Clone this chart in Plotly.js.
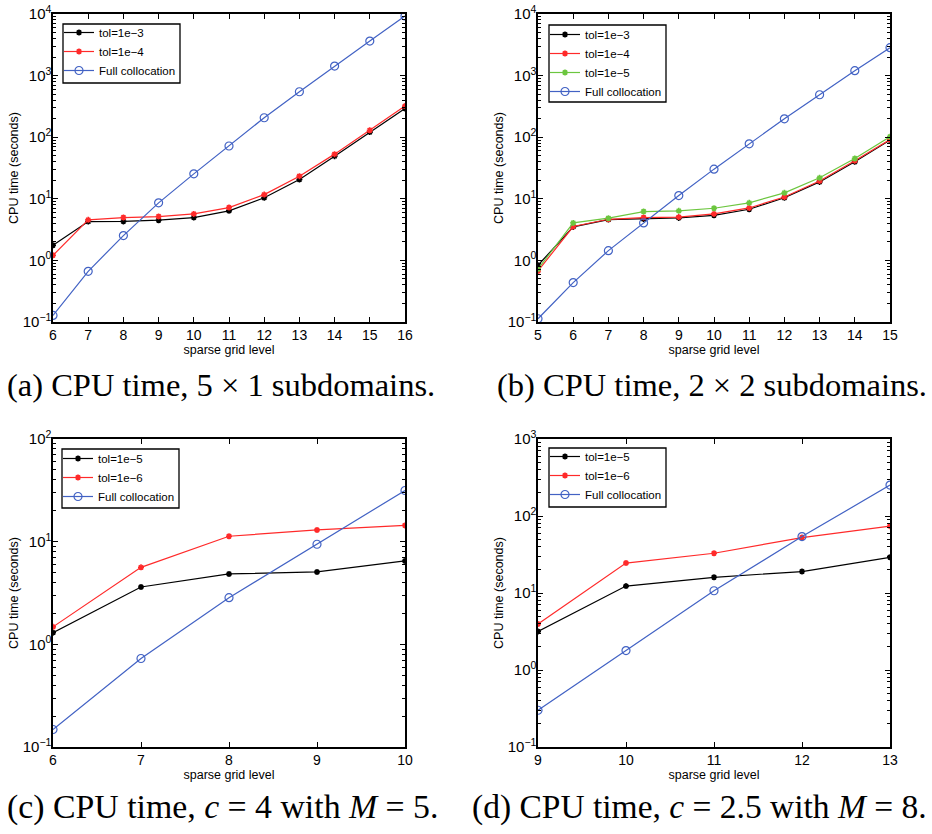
<!DOCTYPE html>
<html>
<head>
<meta charset="utf-8">
<script src="https://cdn.plot.ly/plotly-3.0.1.min.js"></script>
<style>html,body{margin:0;padding:0;background:#fff;}#chart{width:932px;height:834px;}</style>
</head>
<body>
<div id="chart"></div>
<script>
// ---- data ----
const levelsA = [6, 7, 8, 9, 10, 11, 12, 13, 14, 15, 16];
const a_tol1e3 = [1.76, 4.27, 4.3, 4.49, 4.96, 6.37, 10.4, 20.6, 49.2, 121, 293];
const a_tol1e4 = [1.21, 4.55, 4.96, 5.15, 5.69, 7.21, 11.7, 23.3, 53.1, 130, 320];
const a_full = [0.128, 0.665, 2.53, 8.6, 25.4, 72, 207, 547, 1429, 3640, 9280];

const levelsB = [5, 6, 7, 8, 9, 10, 11, 12, 13, 14, 15];
const b_tol1e3 = [0.834, 3.5, 4.6, 4.7, 4.9, 5.4, 6.77, 10.4, 18.8, 39.8, 89.6];
const b_tol1e4 = [0.674, 3.55, 4.65, 4.96, 5.05, 5.69, 7.1, 10.7, 19.5, 41.4, 91.8];
const b_tol1e5 = [0.726, 4.06, 4.84, 6.21, 6.37, 7.03, 8.6, 12.5, 21.9, 45.1, 101.6];
const b_full = [0.113, 0.436, 1.44, 4.06, 11.3, 30.3, 78, 199, 489, 1200, 2840];

const levelsC = [6, 7, 8, 9, 10];
const c_tol1e5 = [1.30, 3.62, 4.85, 5.07, 6.49];
const c_tol1e6 = [1.48, 5.62, 11.3, 13.0, 14.4];
const c_full = [0.148, 0.728, 2.85, 9.44, 31.5];

const levelsD = [9, 10, 11, 12, 13];
const d_tol1e5 = [3.17, 12.3, 16.0, 19.0, 29.1];
const d_tol1e6 = [3.95, 24.5, 32.8, 52.5, 73.8];
const d_full = [0.30, 1.79, 10.7, 54, 252];

const decadeVals = [0.1, 1, 10, 100, 1000, 10000];
const decadeText = ['10<sup>−1</sup>', '10<sup>0</sup>', '10<sup>1</sup>', '10<sup>2</sup>', '10<sup>3</sup>', '10<sup>4</sup>'];

const captions = [
  "(a) CPU time, 5 × 1 subdomains.",
  "(b) CPU time, 2 × 2 subdomains.",
  "(c) CPU time, <i>c</i> = 4 with <i>M</i> = 5.",
  "(d) CPU time, <i>c</i> = 2.5 with <i>M</i> = 8."
];

// ---- styles ----
const BLACK = '#000000', RED = '#ff2a2a', GREEN = '#6cc63f', BLUE = '#4262c4';
function star(x, y, name, color, xa, ya, leg) {
  return {x, y, name, type: 'scatter', mode: 'lines+markers', xaxis: xa, yaxis: ya, legend: leg,
    line: {color, width: 1.2},
    marker: {symbol: 'asterisk-open', size: 5, color, line: {color, width: 1.6}}};
}
function circ(x, y, name, xa, ya, leg) {
  return {x, y, name, type: 'scatter', mode: 'lines+markers', xaxis: xa, yaxis: ya, legend: leg,
    line: {color: BLUE, width: 1.2},
    marker: {symbol: 'circle-open', size: 8, color: BLUE, line: {color: BLUE, width: 1.2}}};
}

const traces = [
  star(levelsA, a_tol1e3, 'tol=1e−3', BLACK, 'x', 'y', 'legend'),
  star(levelsA, a_tol1e4, 'tol=1e−4', RED, 'x', 'y', 'legend'),
  circ(levelsA, a_full, 'Full collocation', 'x', 'y', 'legend'),
  star(levelsB, b_tol1e3, 'tol=1e−3', BLACK, 'x2', 'y2', 'legend2'),
  star(levelsB, b_tol1e4, 'tol=1e−4', RED, 'x2', 'y2', 'legend2'),
  star(levelsB, b_tol1e5, 'tol=1e−5', GREEN, 'x2', 'y2', 'legend2'),
  circ(levelsB, b_full, 'Full collocation', 'x2', 'y2', 'legend2'),
  star(levelsC, c_tol1e5, 'tol=1e−5', BLACK, 'x3', 'y3', 'legend3'),
  star(levelsC, c_tol1e6, 'tol=1e−6', RED, 'x3', 'y3', 'legend3'),
  circ(levelsC, c_full, 'Full collocation', 'x3', 'y3', 'legend3'),
  star(levelsD, d_tol1e5, 'tol=1e−5', BLACK, 'x4', 'y4', 'legend4'),
  star(levelsD, d_tol1e6, 'tol=1e−6', RED, 'x4', 'y4', 'legend4'),
  circ(levelsD, d_full, 'Full collocation', 'x4', 'y4', 'legend4')
];

const W = 932, H = 834;
const FONT = 'Liberation Sans, Arial, sans-serif';

// minor tick positions for log axes (2..9 within each decade)
const minorVals = [];
for (let k = -1; k < 4; k++) for (let m = 2; m <= 9; m++) minorVals.push(m * Math.pow(10, k));

function xax(l, r, lo, hi, anchor) {
  return {domain: [l / W, r / W], range: [lo, hi], anchor, dtick: 1, tick0: 0,
    showline: true, linecolor: '#000', linewidth: 1.6, mirror: 'ticks',
    ticks: 'inside', ticklen: 5, tickwidth: 1, tickcolor: '#000', showgrid: false, zeroline: false,
    tickfont: {family: FONT, size: 14, color: '#000'},
    title: {text: 'sparse grid level', font: {family: FONT, size: 12.5, color: '#000'}, standoff: 0}};
}
function yax(t, b, lo, hi, anchor) {
  return {domain: [1 - b / H, 1 - t / H], type: 'log', range: [lo, hi], anchor,
    tickmode: 'array', tickvals: decadeVals, ticktext: decadeText, ticklabelstandoff: -3,
    showline: true, linecolor: '#000', linewidth: 1.6, mirror: 'allticks',
    ticks: 'inside', ticklen: 5, tickwidth: 1, tickcolor: '#000', showgrid: false, zeroline: false,
    minor: {tickmode: 'array', tickvals: minorVals, ticks: 'inside', ticklen: 3, tickwidth: 1, tickcolor: '#000', showgrid: false},
    tickfont: {family: FONT, size: 15, color: '#000'},
    title: {text: 'CPU time (seconds)', font: {family: FONT, size: 12.5, color: '#000'}, standoff: 1}};
}
// legend boxes drawn as shapes (exact frame), legends placed on top
function box(x0, y0, x1, y1) {
  return {type: 'rect', xref: 'paper', yref: 'paper', x0: x0 / W, x1: x1 / W, y0: 1 - y1 / H, y1: 1 - y0 / H,
    line: {color: '#000', width: 1.3}, fillcolor: '#fff', layer: 'above'};
}
function leg(x, y) {
  return {x: x / W, y: 1 - y / H, xanchor: 'left', yanchor: 'top', bgcolor: 'rgba(0,0,0,0)',
    borderwidth: 0, font: {family: FONT, size: 11.5, color: '#000'},
    tracegroupgap: 0, itemwidth: 30};
}
function cap(text, x, y, size) {
  return {text, x: x / W, y: 1 - y / H, xref: 'paper', yref: 'paper', showarrow: false,
    xanchor: 'center', yanchor: 'middle',
    font: {family: 'Liberation Serif, Times New Roman, serif', size, color: '#000'}};
}

const layout = {
  width: W, height: H, margin: {l: 0, r: 0, t: 0, b: 0},
  paper_bgcolor: '#fff', plot_bgcolor: '#fff', showlegend: true,
  xaxis: xax(53, 405, 6, 16, 'y'),
  yaxis: yax(14, 322, -1, 4, 'x'),
  xaxis2: xax(538, 890, 5, 15, 'y2'),
  yaxis2: yax(14, 322, -1, 4, 'x2'),
  xaxis3: xax(53, 405, 6, 10, 'y3'),
  yaxis3: yax(439, 747, -1, 2, 'x3'),
  xaxis4: xax(538, 890, 9, 13, 'y4'),
  yaxis4: yax(439, 747, -1, 3, 'x4'),
  legend: leg(59, 18),
  legend2: leg(545, 20),
  legend3: leg(58, 444),
  legend4: leg(545, 442),
  shapes: [
    box(63, 24, 180, 83),
    box(549, 25, 666, 102),
    box(62, 449, 179, 508),
    box(549, 448, 666, 507)
  ],
  annotations: [
    cap(captions[0], 221, 385, 32.5),
    cap(captions[1], 712, 385, 32.5),
    cap(captions[2], 222, 807, 33.8),
    cap(captions[3], 699, 807, 33.5)
  ]
};

Plotly.newPlot('chart', traces, layout, {displayModeBar: false, staticPlot: true});
</script>
</body>
</html>
